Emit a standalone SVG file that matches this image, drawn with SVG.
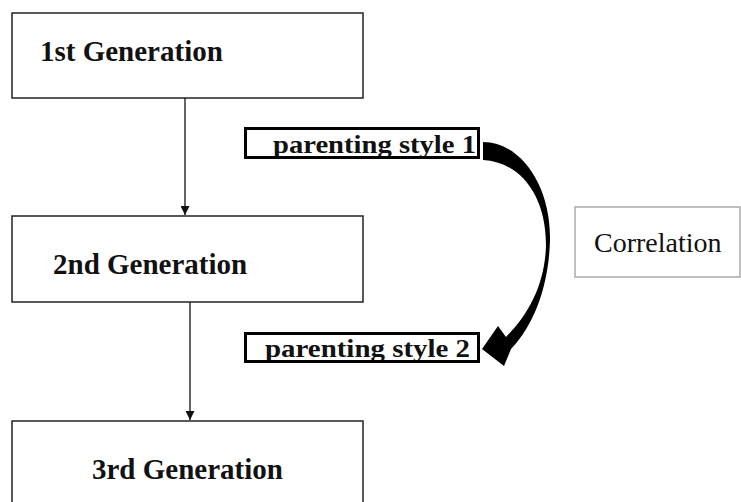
<svg xmlns="http://www.w3.org/2000/svg" width="741" height="502" viewBox="0 0 741 502">
<style>
.gen{fill:#fff;stroke:#222;stroke-width:1.5}
.gt{font-family:"Liberation Serif","Times New Roman",serif;font-weight:bold;font-size:29px;fill:#111}
.ps{fill:none;stroke:#000;stroke-width:3}
.pt{font-family:"Liberation Serif","Times New Roman",serif;font-weight:bold;font-size:26px;fill:#111}
.conn{stroke:#111;stroke-width:1.3;fill:none}
</style>
<defs>
<marker id="ah" viewBox="0 0 10 10" refX="10" refY="5" markerWidth="9" markerHeight="9" markerUnits="userSpaceOnUse" orient="auto">
<path d="M0,0 L10,5 L0,10 Z" fill="#111"/>
</marker>
</defs>
<rect width="741" height="502" fill="#fff"/>
<g id="gen1">
<rect class="gen" x="12" y="13" width="351" height="85"/>
<text class="gt" x="40" y="61">1st Generation</text>
</g>
<g id="gen2">
<rect class="gen" x="12" y="216" width="351" height="86"/>
<text class="gt" x="53" y="274">2nd Generation</text>
</g>
<g id="gen3">
<rect class="gen" x="12" y="421" width="351" height="100"/>
<text class="gt" x="92" y="479">3rd Generation</text>
</g>
<g id="style1">
<rect x="245.5" y="128.5" width="233" height="29" fill="#fff"/>
<text class="pt" x="273" y="153" textLength="203" lengthAdjust="spacingAndGlyphs">parenting style 1</text>
<rect class="ps" x="245.5" y="128.5" width="233" height="29"/>
</g>
<g id="style2">
<rect x="245.5" y="333.5" width="233" height="28" fill="#fff"/>
<text class="pt" x="265" y="357" textLength="205" lengthAdjust="spacingAndGlyphs">parenting style 2</text>
<rect class="ps" x="245.5" y="333.5" width="233" height="28"/>
</g>
<g id="correlation">
<rect x="575" y="207" width="165" height="70" fill="#fff" stroke="#aaa" stroke-width="1.5"/>
<text x="594" y="252" font-family="Liberation Serif, Times New Roman, serif" font-size="28" fill="#111">Correlation</text>
</g>
<g id="connectors">
<line class="conn" x1="185" y1="98" x2="185" y2="215" marker-end="url(#ah)"/>
<line class="conn" x1="190" y1="302" x2="190" y2="420" marker-end="url(#ah)"/>
<path d="M483,142 C520,142 551,185 550,240 C549,280 537,322 511,349 L504,366 L482,349 L498,326 L506,337 C528,315 545,285 546,245 C546,195 520,162 483,160 Z" fill="#000"/>
</g>
</svg>
